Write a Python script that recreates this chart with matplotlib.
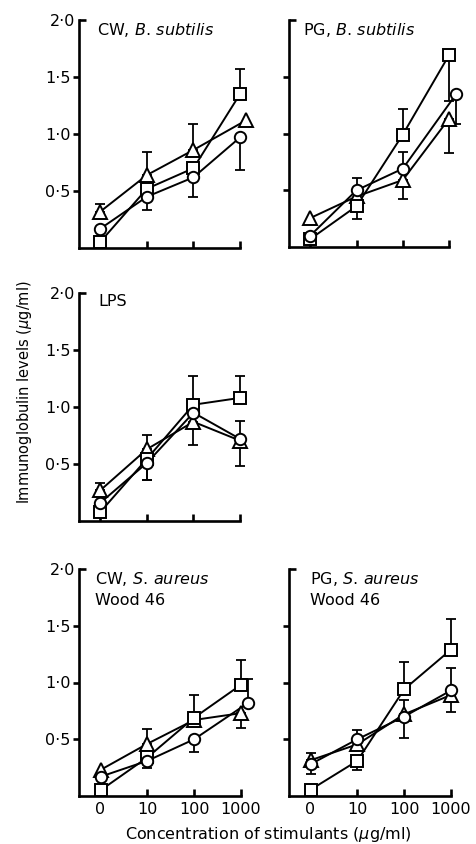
import matplotlib
matplotlib.use("Agg")
import matplotlib.pyplot as plt
import numpy as np

plt.rcParams['font.family'] = ['DejaVu Sans']
plt.rcParams['mathtext.fontset'] = 'custom'
plt.rcParams['mathtext.it'] = 'DejaVu Sans:italic'
plt.rcParams['mathtext.rm'] = 'DejaVu Sans'

# ---------------- data ----------------
concentrations = ["0", "10", "100", "1000"]
ytick_vals = [0.5, 1.0, 1.5]
ytick_labels = ["0·5", "1·0", "1·5"]
ytop_label = "2·0"

# CW, B. subtilis
cw_bs_tri = [0.32, 0.64, 0.86, 1.12]
cw_bs_tri_lo = [0, 0, 0, 0]
cw_bs_tri_hi = [0.07, 0.20, 0.23, 0]
cw_bs_sq = [0.055, 0.52, 0.70, 1.35]
cw_bs_sq_lo = [0, 0, 0, 0]
cw_bs_sq_hi = [0, 0.09, 0, 0.22]
cw_bs_circ = [0.17, 0.45, 0.62, 0.97]
cw_bs_circ_lo = [0, 0.12, 0.17, 0.29]
cw_bs_circ_hi = [0, 0, 0, 0]

# PG, B. subtilis
pg_bs_tri = [0.255, 0.445, 0.59, 1.13]
pg_bs_tri_lo = [0, 0, 0.17, 0.30]
pg_bs_tri_hi = [0, 0, 0, 0]
pg_bs_sq = [0.07, 0.36, 0.99, 1.69]
pg_bs_sq_lo = [0, 0.11, 0, 0.40]
pg_bs_sq_hi = [0, 0, 0.23, 0]
pg_bs_circ = [0.10, 0.50, 0.69, 1.35]
pg_bs_circ_lo = [0, 0, 0, 0.27]
pg_bs_circ_hi = [0, 0.11, 0.15, 0]

# LPS
lps_tri = [0.27, 0.63, 0.87, 0.705]
lps_tri_lo = [0, 0, 0.20, 0.225]
lps_tri_hi = [0.06, 0.125, 0, 0]
lps_sq = [0.08, 0.545, 1.02, 1.08]
lps_sq_lo = [0, 0.185, 0, 0]
lps_sq_hi = [0, 0, 0.25, 0.19]
lps_circ = [0.16, 0.51, 0.95, 0.72]
lps_circ_lo = [0, 0.15, 0, 0]
lps_circ_hi = [0, 0, 0, 0.16]

# CW, S. aureus Wood 46
cw_sa_tri = [0.23, 0.46, 0.67, 0.73]
cw_sa_tri_lo = [0, 0, 0, 0.135]
cw_sa_tri_hi = [0, 0.13, 0, 0]
cw_sa_sq = [0.05, 0.34, 0.69, 0.98]
cw_sa_sq_lo = [0, 0.09, 0, 0]
cw_sa_sq_hi = [0, 0, 0.20, 0.22]
cw_sa_circ = [0.17, 0.31, 0.50, 0.82]
cw_sa_circ_lo = [0, 0, 0.11, 0]
cw_sa_circ_hi = [0, 0, 0, 0.21]

# PG, S. aureus Wood 46
pg_sa_tri = [0.315, 0.455, 0.72, 0.89]
pg_sa_tri_lo = [0, 0, 0, 0.15]
pg_sa_tri_hi = [0.065, 0, 0.125, 0]
pg_sa_sq = [0.055, 0.31, 0.94, 1.29]
pg_sa_sq_lo = [0, 0.085, 0, 0]
pg_sa_sq_hi = [0, 0, 0.24, 0.27]
pg_sa_circ = [0.28, 0.50, 0.70, 0.93]
pg_sa_circ_lo = [0.09, 0, 0.185, 0]
pg_sa_circ_hi = [0, 0.085, 0, 0.20]

titles = {
    "cw_bs": "CW, $\\it{B.}$$\\,$$\\it{subtilis}$",
    "pg_bs": "PG, $\\it{B.}$$\\,$$\\it{subtilis}$",
    "lps": "LPS",
    "cw_sa": "CW, $\\it{S.}$$\\,$$\\it{aureus}$\nWood 46",
    "pg_sa": "PG, $\\it{S.}$$\\,$$\\it{aureus}$\nWood 46",
}
ylabel = "Immunoglobulin levels ($\\mu$g/ml)"
xlabel = "Concentration of stimulants ($\\mu$g/ml)"

panels = {
    "cw_bs": dict(tri=(cw_bs_tri, cw_bs_tri_lo, cw_bs_tri_hi),
                  sq=(cw_bs_sq, cw_bs_sq_lo, cw_bs_sq_hi),
                  circ=(cw_bs_circ, cw_bs_circ_lo, cw_bs_circ_hi)),
    "pg_bs": dict(tri=(pg_bs_tri, pg_bs_tri_lo, pg_bs_tri_hi),
                  sq=(pg_bs_sq, pg_bs_sq_lo, pg_bs_sq_hi),
                  circ=(pg_bs_circ, pg_bs_circ_lo, pg_bs_circ_hi)),
    "lps": dict(tri=(lps_tri, lps_tri_lo, lps_tri_hi),
                sq=(lps_sq, lps_sq_lo, lps_sq_hi),
                circ=(lps_circ, lps_circ_lo, lps_circ_hi)),
    "cw_sa": dict(tri=(cw_sa_tri, cw_sa_tri_lo, cw_sa_tri_hi),
                  sq=(cw_sa_sq, cw_sa_sq_lo, cw_sa_sq_hi),
                  circ=(cw_sa_circ, cw_sa_circ_lo, cw_sa_circ_hi)),
    "pg_sa": dict(tri=(pg_sa_tri, pg_sa_tri_lo, pg_sa_tri_hi),
                  sq=(pg_sa_sq, pg_sa_sq_lo, pg_sa_sq_hi),
                  circ=(pg_sa_circ, pg_sa_circ_lo, pg_sa_circ_hi)),
}

# ---------------- style / layout ----------------
W, H = 477, 844
fig = plt.figure(figsize=(W / 100, H / 100), dpi=100)

def rect(l, r, t, b):
    return [l / W, 1 - b / H, (r - l) / W, (b - t) / H]

layout = {
    "cw_bs": dict(rect=rect(79, 240, 20, 248), ylab=True, xlab=False, tx=0.11),
    "pg_bs": dict(rect=rect(289, 449, 20, 247), ylab=False, xlab=False, tx=0.09),
    "lps":   dict(rect=rect(79, 240, 293, 521), ylab=True, xlab=False, tx=0.12),
    "cw_sa": dict(rect=rect(79, 241, 569, 796), ylab=True, xlab=True, tx=0.10),
    "pg_sa": dict(rect=rect(289, 451, 569, 796), ylab=False, xlab=True, tx=0.13),
}
markers = {"tri": ("^", 9.5), "sq": ("s", 8.0), "circ": ("o", 8.2)}
x_shift = {("cw_bs", "tri", 3): 0.13, ("pg_bs", "circ", 3): 0.16,
           ("cw_sa", "circ", 3): 0.15}
LW = 1.4
SPW = 1.9
FS_TICK = 11.5
FS_TITLE = 11.5
FS_LABEL = 11.5

for key, lay in layout.items():
    ax = fig.add_axes(lay["rect"])
    x_base = np.arange(len(concentrations), dtype=float)
    for s in ("tri", "sq", "circ"):
        vals, lo, hi = panels[key][s]
        x = x_base.copy()
        for i in range(len(x)):
            x[i] += x_shift.get((key, s, i), 0.0)
        ax.plot(x, vals, color="black", lw=LW, zorder=2, clip_on=False)
        lo_a = np.array(lo); hi_a = np.array(hi)
        m = (lo_a > 0) | (hi_a > 0)
        ax.errorbar(x[m], np.array(vals)[m], yerr=[lo_a[m], hi_a[m]], fmt="none",
                    ecolor="black", elinewidth=1.3, capsize=3.4, capthick=1.3,
                    zorder=2, clip_on=False)
        mk, ms = markers[s]
        ax.plot(x, vals, linestyle="none", marker=mk, ms=ms, mfc="white",
                mec="black", mew=1.4, zorder=3, clip_on=False)

    ax.set_xlim(-0.46, 3.0)
    ax.set_ylim(0, 2.0)
    for sp in ("top", "right"):
        ax.spines[sp].set_visible(False)
    for sp in ("left", "bottom"):
        ax.spines[sp].set_linewidth(SPW)

    ax.set_xticks(x_base)
    if lay["xlab"]:
        ax.set_xticklabels(concentrations, fontsize=FS_TICK)
    else:
        ax.set_xticklabels([])
    ax.tick_params(axis="x", direction="in", length=5, width=SPW, pad=4)

    ax.set_yticks(ytick_vals)
    ax.set_yticks([2.0], minor=True)
    if lay["ylab"]:
        ax.set_yticklabels(ytick_labels, fontsize=FS_TICK)
        ax.set_yticklabels([ytop_label], minor=True, fontsize=FS_TICK)
    else:
        ax.set_yticklabels([])
        ax.set_yticklabels([], minor=True)
    ax.tick_params(axis="y", which="major", direction="out", length=4, width=SPW, pad=2)
    ax.tick_params(axis="y", which="minor", direction="in", length=5, width=SPW, pad=3)

    ax.text(lay["tx"], 0.995, titles[key], transform=ax.transAxes, ha="left",
            va="top", fontsize=FS_TITLE, linespacing=1.4)

fig.text(25 / W, 1 - 392 / H, ylabel, rotation=90, ha="center", va="center",
         fontsize=10.5)
fig.text(268 / W, 1 - 834 / H, xlabel, ha="center", va="center", fontsize=FS_LABEL)

fig.savefig("out.png", dpi=100)
